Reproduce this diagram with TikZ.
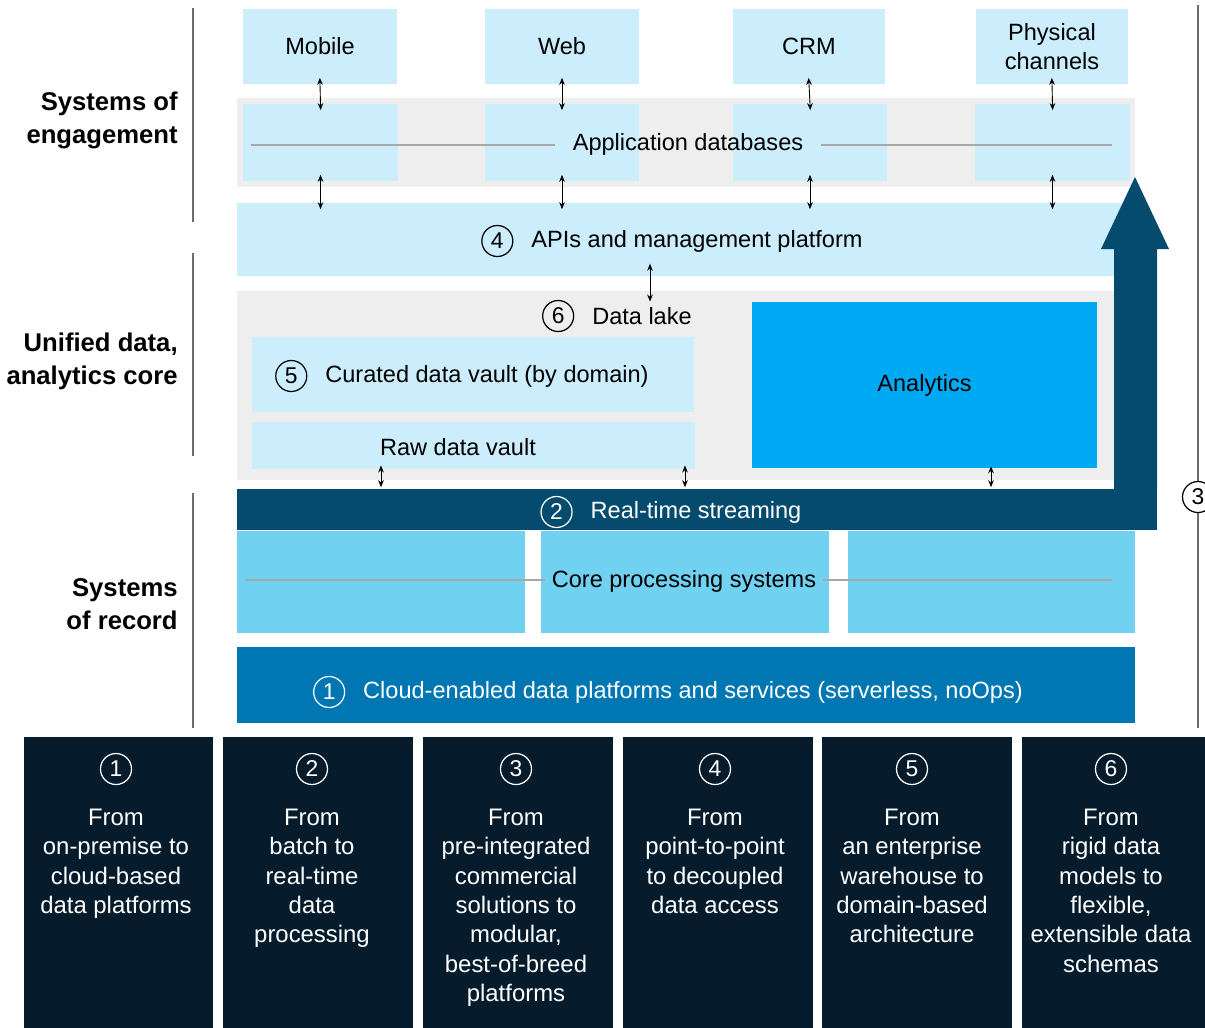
\documentclass[tikz,border=0pt]{standalone}
\usepackage{fontspec}
\setmainfont{Liberation Sans}
\usetikzlibrary{positioning,arrows.meta}
\definecolor{paleblue}{HTML}{CCEDFB}
\definecolor{lakegray}{HTML}{EEEEEE}
\definecolor{brightblue}{HTML}{00A9F4}
\definecolor{coreblue}{HTML}{70D1F1}
\definecolor{cloudblue}{HTML}{0077B2}
\definecolor{streamblue}{HTML}{044B6E}
\definecolor{navy}{HTML}{061C2C}
\definecolor{rulegray}{HTML}{A8A8A8}
\tikzset{
  px/.style 2 args={minimum width=#1*0.02cm,minimum height=#2*0.02cm},
  layer/.style={inner sep=0pt,outer sep=0pt,align=center,font=\fontsize{13.4}{16.5}\selectfont},
  pale box/.style={layer,fill=paleblue},
  lake box/.style={layer,fill=lakegray},
  core box/.style={layer,fill=coreblue},
  shift box/.style={layer,fill=navy,anchor=north},
  shift text/.style={layer,text=white,font=\fontsize{13.6}{16.7}\selectfont},
  side label/.style={inner sep=0pt,align=right,anchor=east,font=\bfseries\fontsize{14.6}{18.7}\selectfont},
  num/.style={circle,draw,line width=0.7pt,minimum size=0.62cm,inner sep=0pt,font=\fontsize{13}{13}\selectfont},
  num light/.style={num,draw=white,text=white},
  link/.style={<->,>={Stealth[length=4pt,width=3.2pt]},line width=0.5pt,shorten <=-3.5pt,shorten >=-3.5pt},
  guide/.style={draw=rulegray,line width=0.8pt},
  side rule/.style={draw=gray!85!black,line width=0.8pt},
  node distance=0.36cm,
}

\begin{document}
\begin{tikzpicture}[x=0.02cm,y=-0.02cm]
\useasboundingbox (0,0) rectangle (1205,1028);
%the side rules and labels
\draw[side rule] (193,8) -- (193,222);
\draw[side rule] (193,253) -- (193,456);
\draw[side rule] (193,493) -- (193,728);
\draw[side rule] (1198,5) -- (1198,728);
\node[side label] (engage) at (178,120) {Systems of\\engagement};
\node[side label] (unified) at (178,361) {Unified data,\\analytics core};
\node[side label] (record) at (178,604) {Systems\\of record};
\node[num,fill=white] (n3side) at (1198,497) {3};
%the channels
\node[pale box,px={154}{75}] (mobile) at (320,46.5) {Mobile};
\node[pale box,px={154}{75}] (web) at (562,46.5) {Web};
\node[pale box,px={152}{75}] (crm) at (809,46.5) {CRM};
\node[pale box,px={152}{75}] (physical) at (1052,46.5) {Physical\\channels};
%application databases
\node[lake box,px={898}{89}] (appband) at (686,142.5) {};
\node[pale box,px={155}{77}] (dbA) at (320.5,142.5) {};
\node[pale box,px={154}{77}] (dbB) at (562,142.5) {};
\node[pale box,px={154}{77}] (dbC) at (810,142.5) {};
\node[pale box,px={155}{77}] (dbD) at (1052.5,142.5) {};
\coordinate (appL) at (251,145);
\coordinate (appR) at (1112,145);
\node[layer,inner xsep=0.36cm] (apptext) at (688,144) {Application databases};
\draw[guide] (appL) -- (appL -| apptext.west);
\draw[guide] (appR -| apptext.east) -- (appR);
%apis
\node[pale box,px={898}{73}] (apis) at (686,239.5) {};
\node[layer] (apitext) at (697,241) {APIs and management platform};
\node[num,left=of apitext] (n4) {4};
%data lake
\node[lake box,px={878}{189}] (lake) at (676,385.5) {};
\node[layer] (laketext) at (642,316) {Data lake};
\node[num,left=of laketext] (n6) {6};
\node[pale box,px={442}{75}] (curated) at (473,374.5) {};
\node[layer] (curtext) at (487,376) {Curated data vault (by domain)};
\node[num,left=of curtext] (n5) {5};
\node[pale box,px={443}{47}] (raw) at (473.5,445.5) {};
\node[layer] (rawtext) at (458,447) {Raw data vault};
\node[layer,fill=brightblue,px={345}{166}] (analytics) at (924.5,385) {Analytics};
%real-time streaming and the big arrow
\node[layer,fill=streamblue,px={920}{41}] (stream) at (697,509.5) {};
\fill[streamblue] (stream.north east) -- ++(0,-240) -- ++(12,0) -- ++(-34,-72)
  -- ++(-34,72) -- ++(13,0) -- ++(0,240) -- cycle;
\node[layer,text=white] (streamtext) at (696,512) {Real-time streaming};
\node[num light,left=of streamtext] (n2) {2};
%core processing systems
\node[core box,px={288}{102}] (coreA) at (381,582) {};
\node[core box,px={288}{102}] (coreB) at (685,582) {};
\node[core box,px={287}{102}] (coreC) at (991.5,582) {};
\coordinate (coreL) at (245,580);
\coordinate (coreR) at (1112,580);
\node[layer,inner xsep=0.14cm] (coretext) at (684,581) {Core processing systems};
\draw[guide] (coreL) -- (coreL -| coretext.west);
\draw[guide] (coreR -| coretext.east) -- (coreR);
%cloud platforms
\node[layer,fill=cloudblue,px={898}{76}] (cloud) at (686,685) {};
\node[layer,text=white] (cloudtext) at (693,692) {Cloud-enabled data platforms and services (serverless, noOps)};
\node[num light,left=of cloudtext] (n1) {1};
%drawings of the links
\draw[link] (mobile.south) -- (dbA.north);
\draw[link] (web.south) -- (dbB.north);
\draw[link] (crm.south) -- (dbC.north);
\draw[link] (physical.south) -- (dbD.north);
\draw[link] (dbA.south) -- (dbA.south |- apis.north);
\draw[link] (dbB.south) -- (dbB.south |- apis.north);
\draw[link] (dbC.south) -- (dbC.south |- apis.north);
\draw[link] (dbD.south) -- (dbD.south |- apis.north);
\coordinate (lakeA) at (650,276);
\draw[link,shorten <=-7pt,shorten >=-6pt] (lakeA) -- (lakeA |- lake.north);
\coordinate (rawA) at (381,469);
\coordinate (rawB) at (685,469);
\coordinate (anaA) at (991,468);
\draw[link,shorten <=-2pt,shorten >=1pt] (rawA) -- (rawA |- stream.north);
\draw[link,shorten <=-2pt,shorten >=1pt] (rawB) -- (rawB |- stream.north);
\draw[link,shorten <=-1pt,shorten >=1pt] (anaA) -- (anaA |- stream.north);
%the shifts
\node[shift box,px={189}{295}] (shiftA) at (118.5,737) {};
\node[shift box,px={190}{295}] (shiftB) at (318,737) {};
\node[shift box,px={190}{295}] (shiftC) at (518,737) {};
\node[shift box,px={190}{295}] (shiftD) at (718,737) {};
\node[shift box,px={190}{295}] (shiftE) at (917,737) {};
\node[shift box,px={190}{295}] (shiftF) at (1117,737) {};
\node[num light] (s1) at (116,769) {1};
\node[num light] (s2) at (312,769) {2};
\node[num light] (s3) at (516,769) {3};
\node[num light] (s4) at (715,769) {4};
\node[num light] (s5) at (912,769) {5};
\node[num light] (s6) at (1111,769) {6};
\node[shift text,below=0.48cm of s1] (t1) {From\\on-premise to\\cloud-based\\data platforms};
\node[shift text,below=0.48cm of s2] (t2) {From\\batch to\\real-time\\data\\processing};
\node[shift text,below=0.48cm of s3] (t3) {From\\pre-integrated\\commercial\\solutions to\\modular,\\best-of-breed\\platforms};
\node[shift text,below=0.48cm of s4] (t4) {From\\point-to-point\\to decoupled\\data access};
\node[shift text,below=0.48cm of s5] (t5) {From\\an enterprise\\warehouse to\\domain-based\\architecture};
\node[shift text,below=0.48cm of s6] (t6) {From\\rigid data\\models to\\flexible,\\extensible data\\schemas};
\end{tikzpicture}
\end{document}
